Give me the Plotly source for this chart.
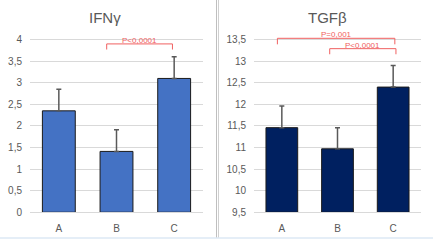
import plotly.graph_objects as go

categories = ["A", "B", "C"]
ifn_values = [2.35, 1.41, 3.10]
ifn_errors = [0.50, 0.50, 0.50]
tgf_values = [11.46, 10.97, 12.40]
tgf_errors = [0.50, 0.49, 0.50]
ifn_ticks = [0, 0.5, 1, 1.5, 2, 2.5, 3, 3.5, 4]
tgf_ticks = [9.5, 10, 10.5, 11, 11.5, 12, 12.5, 13, 13.5]

# significance brackets: (x start, x end, y top, y leg bottom, label)
ifn_brackets = [(0.83, 1.97, 3.90, 3.77, "P<0,0001")]
tgf_brackets = [(-0.08, 2.03, 13.53, 13.39, "P=0,001"),
                (0.86, 2.05, 13.29, 13.16, "P<0,0001")]

GRAY = "#595959"
GRID = "#D9D9D9"
RED = "#F06060"
FONT = "Liberation Sans"
EXT = 0.15  # headroom above the top tick so brackets are not clipped

fig = go.Figure()
fig.add_trace(go.Bar(x=categories, y=ifn_values, xaxis="x", yaxis="y",
                     marker=dict(color="#4472C4", line=dict(color="#1a1a1a", width=1)),
                     error_y=dict(type="data", array=ifn_errors, symmetric=False,
                                  arrayminus=[0, 0, 0], color=GRAY, thickness=1.5, width=2.5)))
tgf_base = tgf_ticks[0]
fig.add_trace(go.Bar(x=categories, y=[v - tgf_base for v in tgf_values], base=tgf_base,
                     xaxis="x2", yaxis="y2",
                     marker=dict(color="#002060", line=dict(color="#1a1a1a", width=1)),
                     error_y=dict(type="data", array=tgf_errors, symmetric=False,
                                  arrayminus=[0, 0, 0], color=GRAY, thickness=1.5, width=2.5)))

ydom = [0.1155, 0.862]
axis_common = dict(showgrid=False, zeroline=False, ticks="", fixedrange=True,
                   tickfont=dict(family=FONT, size=10, color=GRAY))
yaxis_common = dict(showgrid=True, gridcolor=GRID, gridwidth=1, zeroline=False,
                    ticks="", tickfont=dict(family=FONT, size=10, color=GRAY),
                    ticklabelstandoff=7)

fig.update_layout(
    width=433, height=245, margin=dict(l=0, r=0, t=0, b=0),
    paper_bgcolor="white", plot_bgcolor="white", showlegend=False,
    separators=", ", bargap=0.43,
    xaxis=dict(domain=[30/433, 203/433], anchor="y", range=[-0.5, 2.5],
               showline=True, linecolor=GRID, ticklabelstandoff=7, **axis_common),
    yaxis=dict(domain=ydom, anchor="x", range=[ifn_ticks[0], ifn_ticks[-1] + EXT],
               tickvals=ifn_ticks, **yaxis_common),
    xaxis2=dict(domain=[254/433, 421/433], anchor="y2", range=[-0.5, 2.5],
                showline=True, linecolor=GRID, ticklabelstandoff=7, **axis_common),
    yaxis2=dict(domain=ydom, anchor="x2", range=[tgf_ticks[0], tgf_ticks[-1] + EXT],
                tickvals=tgf_ticks, **yaxis_common),
)

shapes = []
annotations = []
for xref, yref, brackets in [("x", "y", ifn_brackets), ("x2", "y2", tgf_brackets)]:
    for x0, x1, ytop, ybot, label in brackets:
        shapes.append(dict(type="path", xref=xref, yref=yref,
                           path=f"M {x0},{ybot} L {x0},{ytop} L {x1},{ytop} L {x1},{ybot}",
                           line=dict(color=RED, width=1)))
        annotations.append(dict(x=(x0 + x1) / 2, y=ytop, xref=xref, yref=yref,
                                text=label, showarrow=False, yanchor="bottom", yshift=-3,
                                font=dict(family=FONT, size=8, color=RED)))

annotations.append(dict(x=105/433, y=1 - 18/245, xref="paper", yref="paper", text="IFNγ",
                        xanchor="center", yanchor="middle",
                        showarrow=False, font=dict(family=FONT, size=15, color=GRAY)))
annotations.append(dict(x=327/433, y=1 - 18/245, xref="paper", yref="paper", text="TGFβ",
                        xanchor="center", yanchor="middle",
                        showarrow=False, font=dict(family=FONT, size=15, color=GRAY)))

# panel divider and bottom border
shapes.append(dict(type="line", xref="paper", yref="paper", x0=216.5/433, x1=216.5/433,
                   y0=2/245, y1=1, line=dict(color="#BFBFBF", width=1)))
shapes.append(dict(type="line", xref="paper", yref="paper", x0=218.5/433, x1=218.5/433,
                   y0=2/245, y1=1, line=dict(color="#D0D0D0", width=1)))
shapes.append(dict(type="line", xref="paper", yref="paper", x0=0, x1=1,
                   y0=2/245, y1=2/245, line=dict(color="#DDE8F5", width=1.5)))

fig.update_layout(shapes=shapes, annotations=annotations)
fig.write_html("out.html")
